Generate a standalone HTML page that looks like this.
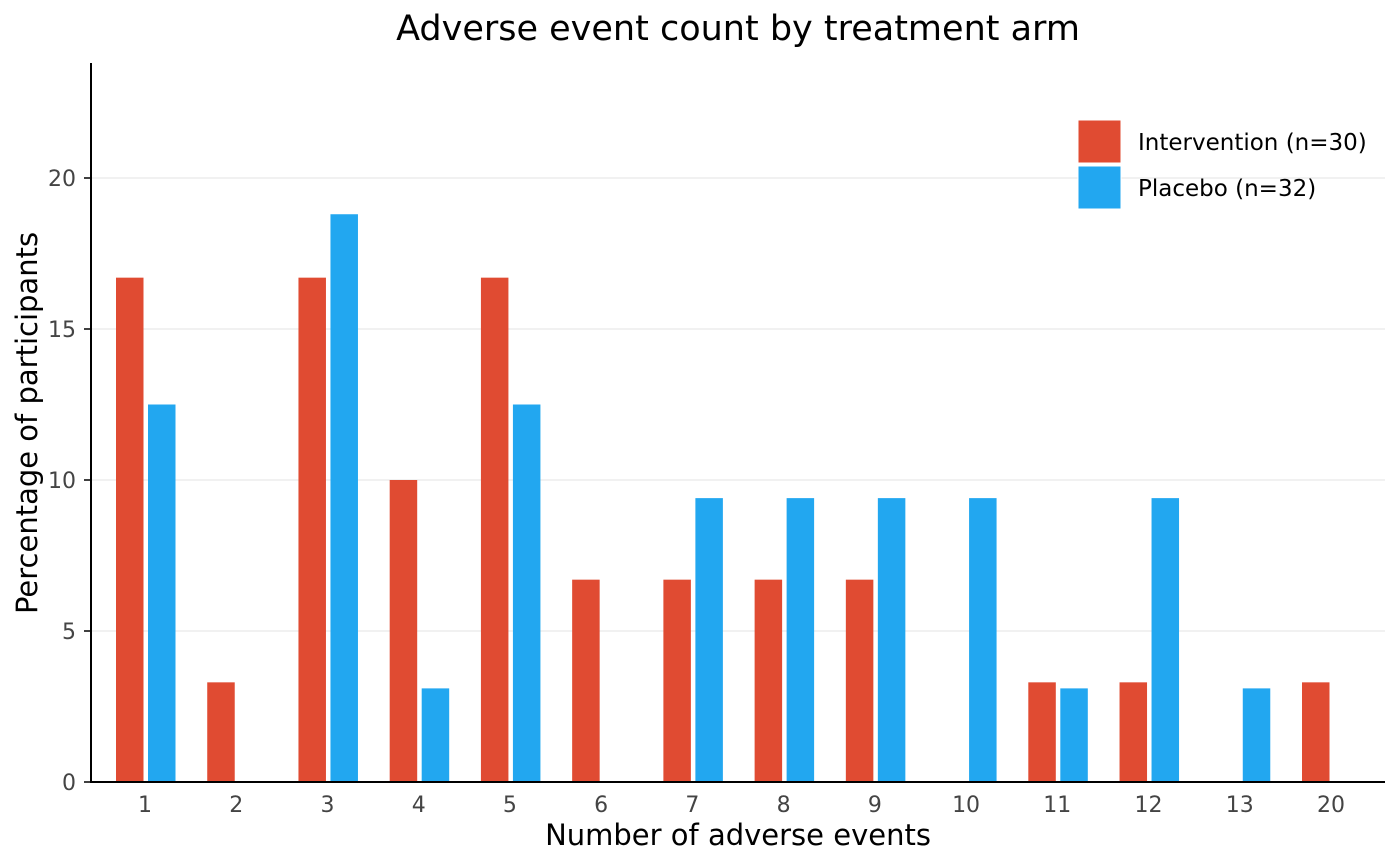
<!DOCTYPE html>
<html><head><meta charset="utf-8"><style>
body{margin:0;background:#fff}
svg{display:block;font-family:"DejaVu Sans","Liberation Sans",sans-serif}
</style></head><body>
<svg id="chart" width="1400" height="866">
<text x="738" y="40" text-anchor="middle" font-size="35" fill="#000">Adverse event count by treatment arm</text>
<g id="grid"></g>
<g id="bars"></g>
<g id="axes"></g>
<text x="738" y="845" text-anchor="middle" font-size="29" fill="#000">Number of adverse events</text>
<text transform="translate(37,423) rotate(-90)" text-anchor="middle" font-size="29" fill="#000">Percentage of participants</text>
<g>
<rect x="1078" y="120" width="43" height="43" fill="#E04B32" stroke="#fff" stroke-width="1"/>
<text x="1138" y="150" font-size="23" fill="#000">Intervention (n=30)</text>
<rect x="1078" y="166" width="43" height="43" fill="#22A7F0" stroke="#fff" stroke-width="1"/>
<text x="1138" y="196" font-size="23" fill="#000">Placebo (n=32)</text>
</g>
</svg>
<script>
const categories = ["1","2","3","4","5","6","7","8","9","10","11","12","13","20"];
const intervention = [16.7,3.3,16.7,10,16.7,6.7,6.7,6.7,6.7,0,3.3,3.3,0,3.3];
const placebo = [12.5,0,18.8,3.1,12.5,0,9.4,9.4,9.4,9.4,3.1,9.4,3.1,0];
const yTicks = [0,5,10,15,20];

const NS="http://www.w3.org/2000/svg";
const x0=145, step=(1331-145)/13;
const xScale=i=>x0+i*step;
const yScale=v=>782-v*30.2;
function mk(tag,attrs,parent){const e=document.createElementNS(NS,tag);for(const k in attrs)e.setAttribute(k,attrs[k]);parent.appendChild(e);return e;}
const grid=document.getElementById('grid'),bars=document.getElementById('bars'),axes=document.getElementById('axes');
yTicks.forEach(t=>{
  const y=yScale(t);
  if(t>0){const g=mk('line',{x1:91,x2:1385,y1:y,y2:y,stroke:'#e3e3e3','stroke-width':1},grid);
  
  }
  const tk=mk('line',{x1:84,x2:91,y1:y,y2:y,stroke:'#000','stroke-width':1.5},axes);
  
  
  const lb=mk('text',{x:76,y:y+8,'text-anchor':'end','font-size':22,fill:'#444'},axes);
  lb.textContent=t;
  
  
});
categories.forEach((c,i)=>{
  const cx=xScale(i);
  [[intervention[i],'#E04B32',cx-29,'intervention'],[placebo[i],'#22A7F0',cx+3,'placebo']].forEach(([v,col,x,nm])=>{
    if(v<=0)return;
    const r=mk('rect',{x:x,y:yScale(v),width:27.5,height:v*30.2,fill:col},bars);
    
    
  });
  const lb=mk('text',{x:cx,y:812,'text-anchor':'middle','font-size':22,fill:'#444'},axes);
  lb.textContent=c;
  
  
});
const ya=mk('line',{x1:91,x2:91,y1:63,y2:783,stroke:'#000','stroke-width':2},axes);


const xa=mk('line',{x1:90,x2:1385,y1:782,y2:782,stroke:'#000','stroke-width':2},axes);


</script>
</body></html>
